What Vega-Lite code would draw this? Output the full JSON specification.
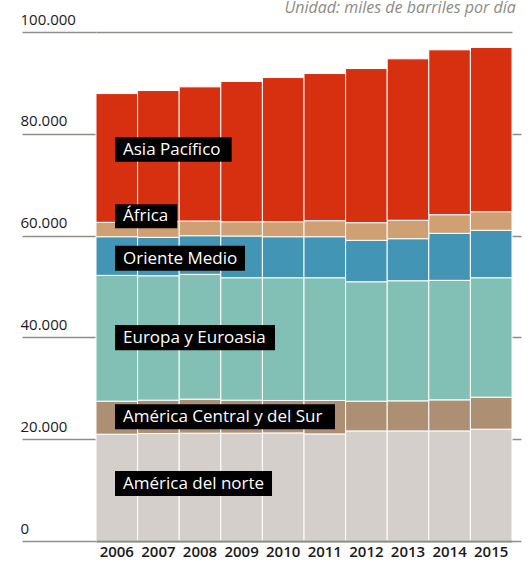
{
  "$schema": "https://vega.github.io/schema/vega-lite/v6.json",
  "autosize": "none",
  "width": 416,
  "height": 509,
  "padding": {"left": 96, "top": 32, "right": 18, "bottom": 25},
  "background": "white",
  "config": {"font": "Open Sans", "view": {"stroke": null}},
  "title": {"text": "Unidad: miles de barriles por día", "anchor": "end", "fontStyle": "italic", "fontWeight": "normal", "fontSize": 16, "color": "#8c8c82", "font": "Open Sans", "baseline": "alphabetic", "offset": -17, "dx": -6},
  "datasets": {
    "capacidad": [
      {"year": "2006", "region": "América del norte", "value": 20980},
      {"year": "2007", "region": "América del norte", "value": 21120},
      {"year": "2008", "region": "América del norte", "value": 21180},
      {"year": "2009", "region": "América del norte", "value": 21180},
      {"year": "2010", "region": "América del norte", "value": 21240},
      {"year": "2011", "region": "América del norte", "value": 21040},
      {"year": "2012", "region": "América del norte", "value": 21630},
      {"year": "2013", "region": "América del norte", "value": 21630},
      {"year": "2014", "region": "América del norte", "value": 21630},
      {"year": "2015", "region": "América del norte", "value": 21970},
      {"year": "2006", "region": "América Central y del Sur", "value": 6490},
      {"year": "2007", "region": "América Central y del Sur", "value": 6550},
      {"year": "2008", "region": "América Central y del Sur", "value": 6690},
      {"year": "2009", "region": "América Central y del Sur", "value": 6490},
      {"year": "2010", "region": "América Central y del Sur", "value": 6370},
      {"year": "2011", "region": "América Central y del Sur", "value": 6570},
      {"year": "2012", "region": "América Central y del Sur", "value": 5840},
      {"year": "2013", "region": "América Central y del Sur", "value": 5900},
      {"year": "2014", "region": "América Central y del Sur", "value": 6100},
      {"year": "2015", "region": "América Central y del Sur", "value": 6290},
      {"year": "2006", "region": "Europa y Euroasia", "value": 24720},
      {"year": "2007", "region": "Europa y Euroasia", "value": 24440},
      {"year": "2008", "region": "Europa y Euroasia", "value": 24520},
      {"year": "2009", "region": "Europa y Euroasia", "value": 24050},
      {"year": "2010", "region": "Europa y Euroasia", "value": 24110},
      {"year": "2011", "region": "Europa y Euroasia", "value": 24110},
      {"year": "2012", "region": "Europa y Euroasia", "value": 23460},
      {"year": "2013", "region": "Europa y Euroasia", "value": 23600},
      {"year": "2014", "region": "Europa y Euroasia", "value": 23480},
      {"year": "2015", "region": "Europa y Euroasia", "value": 23460},
      {"year": "2006", "region": "Oriente Medio", "value": 7590},
      {"year": "2007", "region": "Oriente Medio", "value": 7550},
      {"year": "2008", "region": "Oriente Medio", "value": 7590},
      {"year": "2009", "region": "Oriente Medio", "value": 8200},
      {"year": "2010", "region": "Oriente Medio", "value": 8060},
      {"year": "2011", "region": "Oriente Medio", "value": 8060},
      {"year": "2012", "region": "Oriente Medio", "value": 8140},
      {"year": "2013", "region": "Oriente Medio", "value": 8260},
      {"year": "2014", "region": "Oriente Medio", "value": 9240},
      {"year": "2015", "region": "Oriente Medio", "value": 9320},
      {"year": "2006", "region": "África", "value": 2830},
      {"year": "2007", "region": "África", "value": 3150},
      {"year": "2008", "region": "África", "value": 2890},
      {"year": "2009", "region": "África", "value": 2810},
      {"year": "2010", "region": "África", "value": 2950},
      {"year": "2011", "region": "África", "value": 3150},
      {"year": "2012", "region": "África", "value": 3470},
      {"year": "2013", "region": "África", "value": 3620},
      {"year": "2014", "region": "África", "value": 3660},
      {"year": "2015", "region": "África", "value": 3660},
      {"year": "2006", "region": "Asia Pacífico", "value": 25290},
      {"year": "2007", "region": "Asia Pacífico", "value": 25690},
      {"year": "2008", "region": "Asia Pacífico", "value": 26350},
      {"year": "2009", "region": "Asia Pacífico", "value": 27540},
      {"year": "2010", "region": "Asia Pacífico", "value": 28320},
      {"year": "2011", "region": "Asia Pacífico", "value": 28910},
      {"year": "2012", "region": "Asia Pacífico", "value": 30280},
      {"year": "2013", "region": "Asia Pacífico", "value": 31720},
      {"year": "2014", "region": "Asia Pacífico", "value": 32390},
      {"year": "2015", "region": "Asia Pacífico", "value": 32250}
    ],
    "etiquetas": [
      {"label": "Asia Pacífico", "x0": 0.457, "x1": 3.262, "y0": 74530, "y1": 79330},
      {"label": "África", "x0": 0.457, "x1": 1.954, "y0": 61430, "y1": 66150},
      {"label": "Oriente Medio", "x0": 0.457, "x1": 3.582, "y0": 53100, "y1": 58010},
      {"label": "Europa y Euroasia", "x0": 0.457, "x1": 4.303, "y0": 37500, "y1": 42420},
      {"label": "América Central y del Sur", "x0": 0.457, "x1": 5.745, "y0": 21970, "y1": 26880},
      {"label": "América del norte", "x0": 0.457, "x1": 4.231, "y0": 8850, "y1": 13770}
    ]
  },
  "layer": [
    {
      "data": {"name": "capacidad"},
      "transform": [
        {"calculate": "indexof(['América del norte', 'América Central y del Sur', 'Europa y Euroasia', 'Oriente Medio', 'África', 'Asia Pacífico'], datum.region)", "as": "orden"}
      ],
      "mark": {"type": "bar", "stroke": "white", "strokeWidth": 1},
      "encoding": {
        "x": {
          "field": "year", "type": "ordinal",
          "scale": {"paddingInner": 0, "paddingOuter": 0},
          "axis": {"title": null, "labelAngle": 0, "ticks": false, "domain": true, "domainColor": "#8e8e86", "domainWidth": 2, "labelFontSize": 15, "labelFontWeight": 600, "labelColor": "#1a1a1a", "labelFont": "Open Sans", "labelPadding": 3, "zindex": 1}
        },
        "y": {
          "field": "value", "type": "quantitative", "stack": "zero",
          "scale": {"domain": [0, 100000], "nice": false},
          "axis": {"orient": "left", "title": null, "values": [0, 20000, 40000, 60000, 80000, 100000], "labelExpr": "replace(format(datum.value, ',d'), ',', '.')", "domain": false, "ticks": true, "tickSize": 74, "tickColor": "#8e8e86", "tickWidth": 1.5, "grid": true, "gridColor": "#8e8e86", "gridWidth": 1.5, "labelAlign": "left", "labelPadding": 2, "labelBaseline": "alphabetic", "labelOffset": -8, "labelFontSize": 15, "labelColor": "#1a1a1a", "labelFont": "Open Sans"}
        },
        "color": {
          "field": "region", "type": "nominal",
          "scale": {
            "domain": ["América del norte", "América Central y del Sur", "Europa y Euroasia", "Oriente Medio", "África", "Asia Pacífico"],
            "range": ["#d4cfca", "#ad9073", "#82c0b5", "#4295b5", "#d0a075", "#d63011"]
          },
          "legend": null
        },
        "order": {"field": "orden", "type": "quantitative", "sort": "ascending"}
      }
    },
    {
      "data": {"name": "etiquetas"},
      "encoding": {
        "x": {"field": "x0", "type": "quantitative", "scale": {"domain": [0, 10], "nice": false, "zero": false}, "axis": null},
        "y": {"field": "y0", "type": "quantitative", "axis": {"orient": "right", "title": null, "values": [0, 20000, 40000, 60000, 80000], "labels": false, "domain": false, "grid": false, "ticks": true, "tickSize": 9, "tickColor": "#8e8e86", "tickWidth": 1.5}}
      },
      "layer": [
        {
          "mark": {"type": "rect", "color": "black"},
          "encoding": {"x2": {"field": "x1"}, "y2": {"field": "y1"}}
        },
        {
          "mark": {"type": "text", "color": "white", "align": "left", "baseline": "alphabetic", "dx": 8, "dy": -7, "fontSize": 17, "font": "Open Sans"},
          "encoding": {"text": {"field": "label"}}
        }
      ]
    }
  ],
  "resolve": {"scale": {"x": "independent"}, "axis": {"y": "independent"}}
}
